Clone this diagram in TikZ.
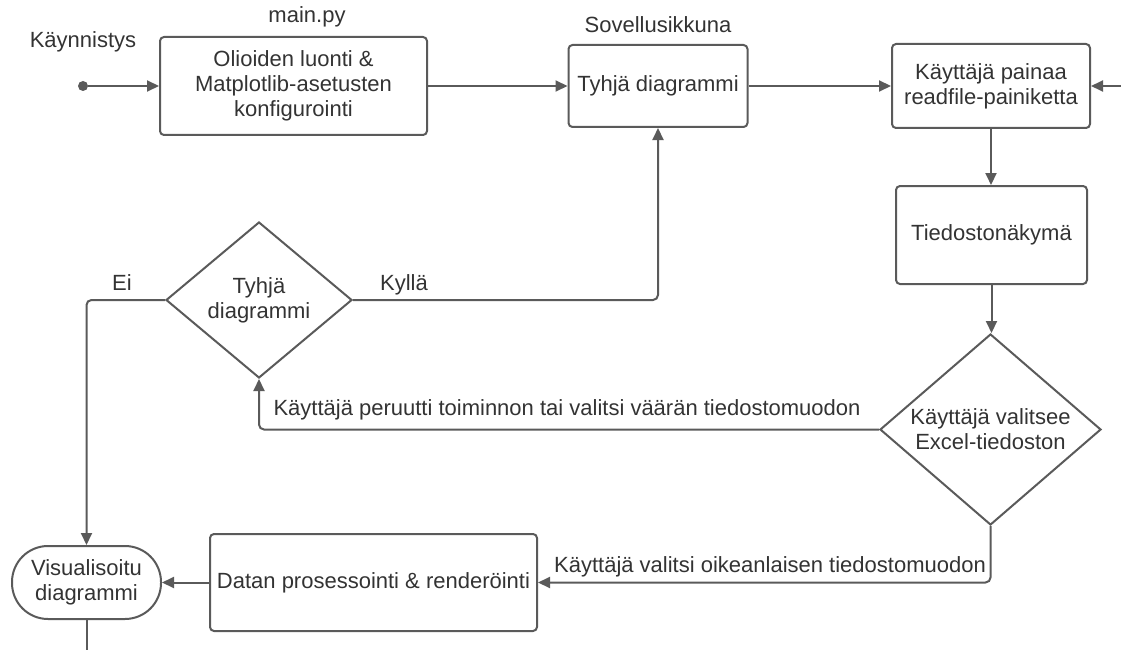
\documentclass[tikz,border=0pt]{standalone}
\usepackage{fontspec}
\setmainfont{Liberation Sans}
\usetikzlibrary{arrows.meta,shapes.geometric}
\definecolor{ln}{HTML}{5A5A5A}
\definecolor{tx}{HTML}{333333}
\begin{document}
\begin{tikzpicture}[x=1pt,y=-1pt,
  every node/.style={font=\fontsize{22}{25}\selectfont, text=tx},
  box/.style={draw=ln, line width=2pt, rounded corners=4pt, align=center, inner sep=0pt},
  dia/.style={draw=ln, line width=2pt, diamond, inner sep=0pt},
  lbl/.style={anchor=base, inner sep=0pt},
  conn/.style={draw=ln, line width=2pt, rounded corners=5pt, -{Triangle[length=12pt,width=11pt]}},
  plain/.style={draw=ln, line width=2pt}]
\useasboundingbox (0,0) rectangle (1121,650);

\node[circle, fill=ln, minimum size=10pt, inner sep=0pt] (start) at (83,86) {};
\node[box, minimum width=267pt, minimum height=98pt] (init) at (293.5,86) {Olioiden luonti \&\\Matplotlib-asetusten\\konfigurointi};
\node[box, minimum width=179pt, minimum height=82pt] (win) at (658,86) {Tyhjä diagrammi};
\node[box, minimum width=198pt, minimum height=84pt] (press) at (991,86) {Käyttäjä painaa\\readfile-painiketta};
\node[box, minimum width=191pt, minimum height=98pt] (view) at (991.5,235) {Tiedostonäkymä};
\node[dia, minimum width=221pt, minimum height=191pt] (sel) at (990.5,429.5) {};
\node[align=center, inner sep=0pt] (seltxt) at (sel) {Käyttäjä valitsee\\Excel-tiedoston};
\node[dia, minimum width=186pt, minimum height=156pt] (empty) at (259,300) {};
\node[align=center, inner sep=0pt] (emptytxt) at (empty) {Tyhjä\\diagrammi};
\node[box, rounded corners=36pt, minimum width=149pt, minimum height=73pt] (vis) at (86.5,582.5) {Visualisoitu\\diagrammi};
\node[box, minimum width=327pt, minimum height=97pt] (proc) at (373.5,582.5) {Datan prosessointi \& renderöinti};

\node[lbl] (l1) at (83,48) {Käynnistys};
\node[lbl] (l2) at (307,23) {main.py};
\node[lbl] (l3) at (658,33) {Sovellusikkuna};
\node[lbl] (l4) at (122,290) {Ei};
\node[lbl] (l5) at (404,290) {Kyllä};
\node[lbl] (l6) at (567,415) {Käyttäjä peruutti toiminnon tai valitsi väärän tiedostomuodon};
\node[lbl] (l7) at (770,572) {Käyttäjä valitsi oikeanlaisen tiedostomuodon};

\coordinate (rin) at (1121,86);
\coordinate (vend) at (86.5,650);

\draw[conn] (start.east) -- (init.west);
\draw[conn] (init.east) -- (win.west);
\draw[conn] (win.east) -- (press.west);
\draw[conn] (rin) -- (press.east);
\draw[conn] (press.south) -- (press.south |- view.north);
\draw[conn] (view.south) -- (view.south |- sel.north);
\draw[conn] (sel.west) -- (empty.south |- sel.west) -- (empty.south);
\draw[conn] (empty.east) -- (win.south |- empty.east) -- (win.south);
\draw[conn] (empty.west) -- (vis.north |- empty.west) -- (vis.north);
\draw[conn] (sel.south) -- (sel.south |- proc.east) -- (proc.east);
\draw[conn] (proc.west) -- (vis.east);
\draw[plain] (vis.south) -- (vend);
\end{tikzpicture}
\end{document}
